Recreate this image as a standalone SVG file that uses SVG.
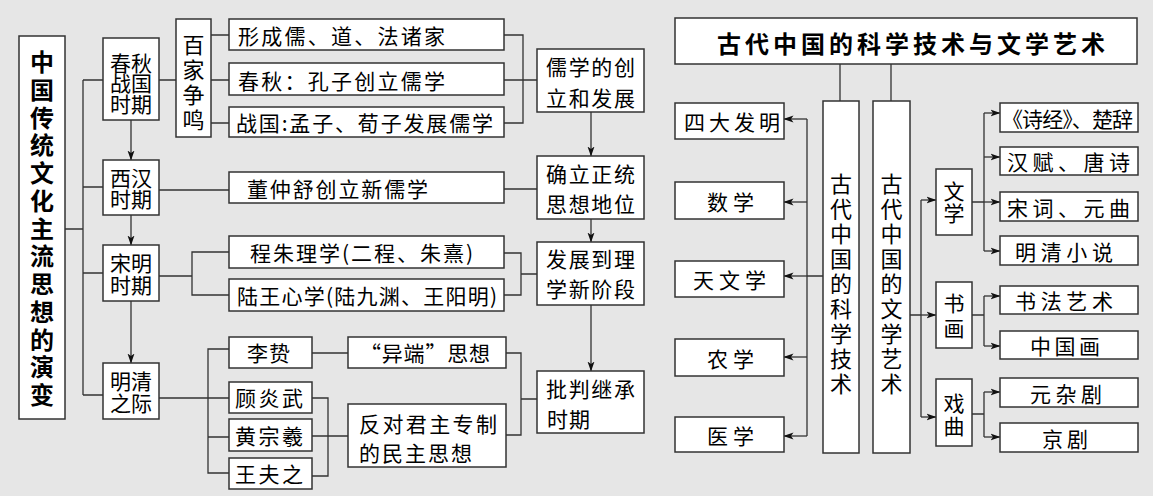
<svg xmlns="http://www.w3.org/2000/svg" width="1153" height="496" viewBox="0 0 1153 496">
<style>
.bx{fill:#fff;stroke:#333;stroke-width:1.5}
.ln{fill:none;stroke:#333;stroke-width:1.3}
.ar{fill:none;stroke:#333;stroke-width:1.3;marker-end:url(#ah)}
text{font-family:"Noto Sans CJK SC","Noto Sans CJK JP",sans-serif;font-size:21px;fill:#000;dominant-baseline:central}
.c{text-anchor:middle}
.b{font-weight:bold;font-size:24px}
.v{font-size:22px;text-anchor:middle}
.s{font-size:21px;text-anchor:middle}
</style>
<defs>
<marker id="ah" markerWidth="10" markerHeight="8" refX="9.5" refY="4" orient="auto" markerUnits="userSpaceOnUse">
<path d="M0,0.5 L10,4 L0,7.5 L2.5,4 z" fill="#111"/>
</marker>
</defs>
<rect x="0" y="0" width="1153" height="496" fill="#e6e6e6"/>

<g id="connectors">
<path class="ln" d="M65,229 H83 M83,80 V395 M83,80 H103 M83,187 H103 M83,273 H103 M83,395 H103"/>
<path class="ar" d="M131,120 V160"/>
<path class="ar" d="M131,215 V245"/>
<path class="ar" d="M131,301 V363"/>
<path class="ln" d="M159,80 H176 M211,35 H229 M211,80 H229 M211,123 H229"/>
<path class="ln" d="M504,35 H523 V123 H504 M504,80 H537"/>
<path class="ar" d="M591,112 V156"/>
<path class="ln" d="M159,190 H229 M504,189 H537"/>
<path class="ar" d="M591,219 V242"/>
<path class="ln" d="M159,276 H192 M229,252 H192 V295 H229"/>
<path class="ln" d="M504,253 H521 V295 H504 M521,274 H537"/>
<path class="ar" d="M591,305 V371"/>
<path class="ln" d="M159,398 H229 M229,349 H208 V473 H229 M208,437 H229"/>
<path class="ln" d="M312,353 H348 M312,398 H328 V476 H312 M312,436 H348"/>
<path class="ln" d="M506,353 H521 V435 H506 M521,399 H537"/>

<path class="ln" d="M840,64 V101 M891,64 V101"/>
<path class="ln" d="M823,276 H807 M807,119 V436"/>
<path class="ar" d="M807,119 H784"/>
<path class="ar" d="M807,202 H784"/>
<path class="ar" d="M807,276 H784"/>
<path class="ar" d="M807,357 H784"/>
<path class="ar" d="M807,436 H784"/>
<path class="ln" d="M910,315 H921 M921,200 V417"/>
<path class="ar" d="M921,200 H936"/>
<path class="ar" d="M921,315 H936"/>
<path class="ar" d="M921,417 H936"/>
<path class="ln" d="M972,202 H984 M984,113 V251"/>
<path class="ar" d="M984,113 H1000"/>
<path class="ar" d="M984,157 H1000"/>
<path class="ar" d="M984,202 H1000"/>
<path class="ar" d="M984,251 H1000"/>
<path class="ln" d="M972,315 H984 M984,296 V346"/>
<path class="ar" d="M984,296 H1000"/>
<path class="ar" d="M984,346 H1000"/>
<path class="ln" d="M972,414 H984 M984,392 V437"/>
<path class="ar" d="M984,392 H1000"/>
<path class="ar" d="M984,437 H1000"/>
</g>

<g id="n-left-title"><rect class="bx" x="19" y="36" width="46" height="383"/>
<text class="b c"><tspan x="42" y="60">中</tspan><tspan x="42" y="87.75">国</tspan><tspan x="42" y="115.5">传</tspan><tspan x="42" y="143.25">统</tspan><tspan x="42" y="171">文</tspan><tspan x="42" y="198.75">化</tspan><tspan x="42" y="226.5">主</tspan><tspan x="42" y="254.25">流</tspan><tspan x="42" y="282">思</tspan><tspan x="42" y="309.75">想</tspan><tspan x="42" y="337.5">的</tspan><tspan x="42" y="365.25">演</tspan><tspan x="42" y="393">变</tspan></text></g>

<g id="n-chunqiu"><rect class="bx" x="103" y="38" width="56" height="82"/>
<text class="c"><tspan x="131" y="61.5">春秋</tspan><tspan x="131" y="82">战国</tspan><tspan x="131" y="102.5">时期</tspan></text></g>
<g id="n-xihan"><rect class="bx" x="103" y="160" width="56" height="55"/>
<text class="c"><tspan x="131" y="176.5">西汉</tspan><tspan x="131" y="198">时期</tspan></text></g>
<g id="n-songming"><rect class="bx" x="103" y="245" width="56" height="56"/>
<text class="c"><tspan x="131" y="262">宋明</tspan><tspan x="131" y="284">时期</tspan></text></g>
<g id="n-mingqing"><rect class="bx" x="103" y="363" width="56" height="56"/>
<text class="c"><tspan x="131" y="380">明清</tspan><tspan x="131" y="402">之际</tspan></text></g>

<g id="n-baijia"><rect class="bx" x="176" y="19" width="35" height="118"/>
<text class="v"><tspan x="193.5" y="43">百</tspan><tspan x="193.5" y="68">家</tspan><tspan x="193.5" y="93">争</tspan><tspan x="193.5" y="118">鸣</tspan></text></g>

<g id="n-xingcheng"><rect class="bx" x="229" y="19" width="275" height="31"/><text x="238" y="35" textLength="207">形成儒、道、法诸家</text></g>
<g id="n-kongzi"><rect class="bx" x="229" y="63" width="275" height="32"/><text x="238" y="80" textLength="207">春秋：孔子创立儒学</text></g>
<g id="n-mengzi"><rect class="bx" x="229" y="107" width="275" height="30"/><text x="236" y="122" textLength="257">战国:孟子、荀子发展儒学</text></g>
<g id="n-dong"><rect class="bx" x="229" y="172" width="275" height="31"/><text x="247" y="188" textLength="181">董仲舒创立新儒学</text></g>
<g id="n-chengzhu"><rect class="bx" x="229" y="236" width="275" height="32"/><text x="250" y="252" textLength="223">程朱理学(二程、朱熹)</text></g>
<g id="n-luwang"><rect class="bx" x="229" y="279" width="275" height="32"/><text x="237" y="295" textLength="260">陆王心学(陆九渊、王阳明)</text></g>

<g id="n-lizhi"><rect class="bx" x="229" y="337" width="83" height="31"/><text x="247" y="352" textLength="43">李贽</text></g>
<g id="n-gu"><rect class="bx" x="229" y="382" width="83" height="31"/><text x="235" y="397" textLength="68">顾炎武</text></g>
<g id="n-huang"><rect class="bx" x="229" y="419" width="83" height="32"/><text x="235" y="435" textLength="68">黄宗羲</text></g>
<g id="n-wang"><rect class="bx" x="229" y="458" width="83" height="31"/><text x="235" y="473" textLength="68">王夫之</text></g>

<g id="n-yiduan"><rect class="bx" x="348" y="337" width="158" height="31"/><text x="360" y="352" textLength="130">“异端”思想</text></g>
<g id="n-minzhu"><rect class="bx" x="348" y="404" width="158" height="63"/>
<text x="359" y="423" textLength="138">反对君主专制</text><text x="359" y="452" textLength="113">的民主思想</text></g>

<g id="n-ruxue"><rect class="bx" x="537" y="49" width="107" height="63"/>
<text x="546" y="66" textLength="89">儒学的创</text><text x="546" y="97" textLength="89">立和发展</text></g>
<g id="n-queli"><rect class="bx" x="537" y="156" width="107" height="63"/>
<text x="546" y="173" textLength="89">确立正统</text><text x="546" y="203" textLength="89">思想地位</text></g>
<g id="n-lixue"><rect class="bx" x="537" y="242" width="107" height="63"/>
<text x="546" y="258" textLength="89">发展到理</text><text x="546" y="288" textLength="89">学新阶段</text></g>
<g id="n-pipan"><rect class="bx" x="537" y="371" width="107" height="62"/>
<text x="546" y="388" textLength="89">批判继承</text><text x="547" y="418" textLength="43">时期</text></g>

<g id="n-right-title"><rect class="bx" x="675" y="18" width="462" height="46"/>
<text class="b" x="717" y="42" textLength="388">古代中国的科学技术与文学艺术</text></g>

<g id="n-keji"><rect class="bx" x="823" y="101" width="36" height="352"/>
<text class="v"><tspan x="841" y="182">古</tspan><tspan x="841" y="207">代</tspan><tspan x="841" y="232">中</tspan><tspan x="841" y="257">国</tspan><tspan x="841" y="282">的</tspan><tspan x="841" y="307">科</tspan><tspan x="841" y="332">学</tspan><tspan x="841" y="357">技</tspan><tspan x="841" y="382">术</tspan></text></g>
<g id="n-wenyi"><rect class="bx" x="873" y="101" width="37" height="352"/>
<text class="v"><tspan x="891.5" y="182">古</tspan><tspan x="891.5" y="207">代</tspan><tspan x="891.5" y="232">中</tspan><tspan x="891.5" y="257">国</tspan><tspan x="891.5" y="282">的</tspan><tspan x="891.5" y="307">文</tspan><tspan x="891.5" y="332">学</tspan><tspan x="891.5" y="357">艺</tspan><tspan x="891.5" y="382">术</tspan></text></g>

<g id="n-sida"><rect class="bx" x="675" y="103" width="109" height="36"/><text x="684" y="121" textLength="96">四大发明</text></g>
<g id="n-shuxue"><rect class="bx" x="675" y="182" width="109" height="37"/><text x="707" y="200.5" textLength="47">数学</text></g>
<g id="n-tianwen"><rect class="bx" x="675" y="261" width="109" height="36"/><text x="693" y="279" textLength="73">天文学</text></g>
<g id="n-nongxue"><rect class="bx" x="675" y="339" width="109" height="37"/><text x="707" y="357.5" textLength="47">农学</text></g>
<g id="n-yixue"><rect class="bx" x="675" y="417" width="109" height="35"/><text x="707" y="434.5" textLength="47">医学</text></g>

<g id="n-wenxue"><rect class="bx" x="936" y="169" width="36" height="66"/>
<text class="s"><tspan x="954" y="190">文</tspan><tspan x="954" y="212">学</tspan></text></g>
<g id="n-shuhua"><rect class="bx" x="936" y="282" width="36" height="66"/>
<text class="s"><tspan x="954" y="302">书</tspan><tspan x="954" y="327">画</tspan></text></g>
<g id="n-xiqu"><rect class="bx" x="936" y="379" width="36" height="67"/>
<text class="s"><tspan x="954" y="402">戏</tspan><tspan x="954" y="425">曲</tspan></text></g>

<g id="n-shijing"><rect class="bx" x="1000" y="103" width="138" height="29"/><text x="1002" y="117.5" textLength="131">《诗经》、楚辞</text></g>
<g id="n-hanfu"><rect class="bx" x="1000" y="147" width="138" height="28"/><text x="1007" y="161" textLength="123">汉赋、唐诗</text></g>
<g id="n-songci"><rect class="bx" x="1000" y="192" width="138" height="29"/><text x="1007" y="206.5" textLength="123">宋词、元曲</text></g>
<g id="n-xiaoshuo"><rect class="bx" x="1000" y="236" width="138" height="29"/><text x="1015" y="250.5" textLength="98">明清小说</text></g>
<g id="n-shufa"><rect class="bx" x="1000" y="286" width="138" height="28"/><text x="1015" y="300" textLength="98">书法艺术</text></g>
<g id="n-guohua"><rect class="bx" x="1000" y="331" width="138" height="28"/><text x="1030" y="345" textLength="70">中国画</text></g>
<g id="n-zaju"><rect class="bx" x="1000" y="378" width="138" height="29"/><text x="1030" y="392.5" textLength="72">元杂剧</text></g>
<g id="n-jingju"><rect class="bx" x="1000" y="423" width="138" height="29"/><text x="1042" y="437.5" textLength="46">京剧</text></g>
</svg>
